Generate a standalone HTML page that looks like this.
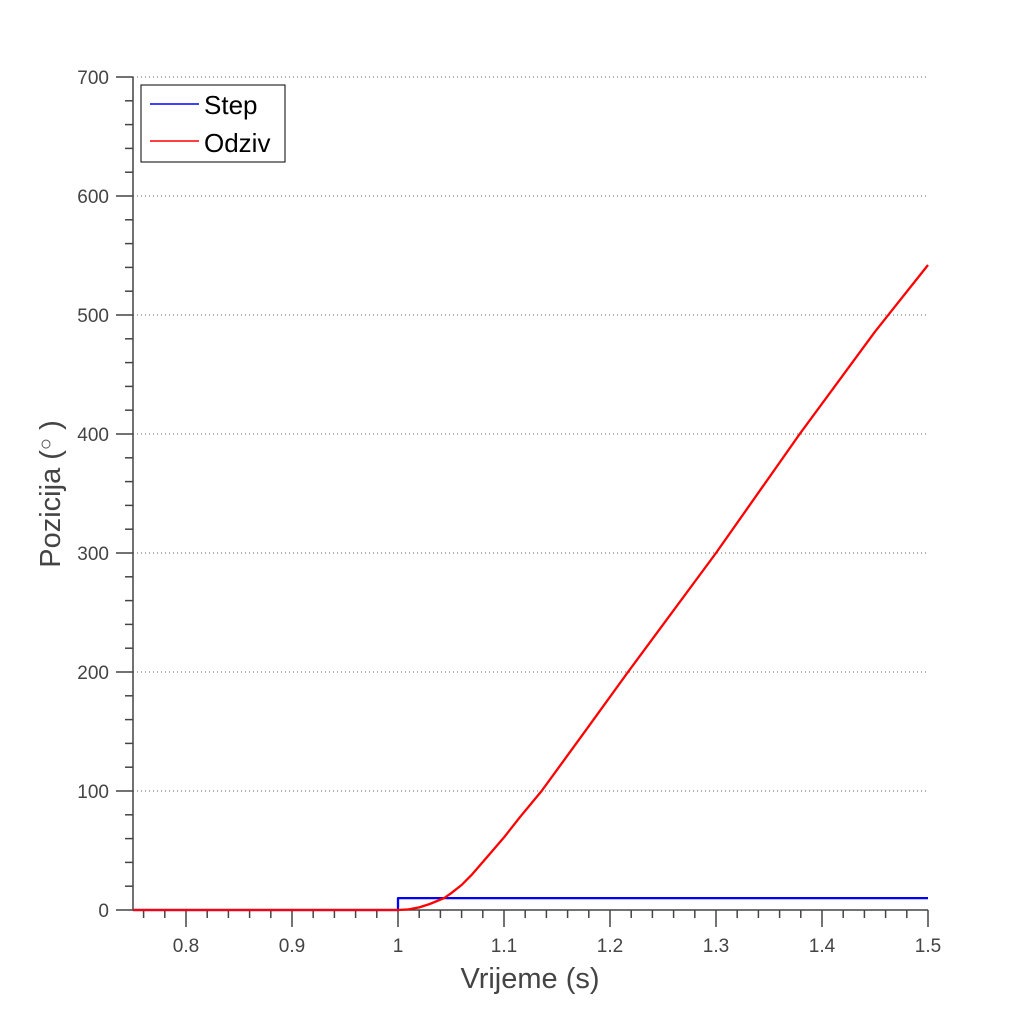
<!DOCTYPE html>
<html><head><meta charset="utf-8"><style>
body{margin:0;background:#fff}
svg text{font-family:"Liberation Sans",sans-serif}
</style></head><body>
<svg id="chart" width="1024" height="1024" xmlns="http://www.w3.org/2000/svg">
<g id="grid"></g>
<g id="axes"></g>
<g id="series"></g>
<text x="530" y="988" text-anchor="middle" font-size="29" fill="#444">Vrijeme (s)</text>
<text transform="translate(60,494) rotate(-90)" text-anchor="middle" font-size="29" fill="#444">Pozicija (<tspan font-size="20" dy="-8">○</tspan><tspan dy="8"> )</tspan></text>
<g>
<rect x="141" y="85" width="144" height="77" fill="#fff" stroke="#000" stroke-width="1"/>
<line x1="150" y1="104" x2="199" y2="104" stroke="#00f" stroke-width="1.5"/>
<text x="204" y="114" font-size="26" fill="#000">Step</text>
<line x1="150" y1="141" x2="199" y2="141" stroke="#f00" stroke-width="1.5"/>
<text x="204" y="152" font-size="26" fill="#000">Odziv</text>
</g>
</svg>
<script>
const xTicks=[0.8,0.9,1,1.1,1.2,1.3,1.4,1.5];
const xTickLabels=["0.8","0.9","1","1.1","1.2","1.3","1.4","1.5"];
const yTicks=[0,100,200,300,400,500,600,700];
const yTickLabels=["0","100","200","300","400","500","600","700"];
const stepT=[0.75,1.0,1.0,1.5];
const stepV=[0,0,10,10];
const respT=[0.75,1.0,1.01,1.02,1.03,1.0436,1.05,1.06,1.07,1.0836,1.1,1.115,1.1355,1.178,1.217,1.3,1.379,1.45,1.5];
const respV=[0,0,0.5,2.2,5,10,14,21,30,44,61,78,100,152,200,300,400,486,542];
const X0=133,X1=928,Y0=910,Y1=77;
const xs=t=>X0+(t-0.75)/(1.5-0.75)*(X1-X0);
const ys=v=>Y0-v/700*(Y0-Y1);
const NS="http://www.w3.org/2000/svg";
function mk(tag,attrs,parent){const e=document.createElementNS(NS,tag);for(const k in attrs)e.setAttribute(k,attrs[k]);parent.appendChild(e);return e;}
const grid=document.getElementById('grid'),axes=document.getElementById('axes'),ser=document.getElementById('series');
yTicks.forEach((v,i)=>{
 if(v>0){const g=mk('line',{x1:X0,x2:X1,y1:ys(v),y2:ys(v),stroke:'#666','stroke-width':1,'stroke-dasharray':'1,3'},grid);
 
 }
 const t=mk('line',{x1:X0-17,x2:X0,y1:ys(v),y2:ys(v),stroke:'#444','stroke-width':1.5},axes);
 
 
 const l=mk('text',{x:X0-24,y:ys(v)+7,'text-anchor':'end','font-size':19,fill:'#444'},axes);
 l.textContent=yTickLabels[i];
 
 
});
for(let v=20;v<700;v+=20){if(v%100===0)continue;
 const m=mk('line',{x1:X0-8,x2:X0,y1:ys(v),y2:ys(v),stroke:'#444','stroke-width':1.5},axes);
 
 }
xTicks.forEach((v,i)=>{
 const t=mk('line',{x1:xs(v),x2:xs(v),y1:Y0,y2:Y0+17,stroke:'#444','stroke-width':1.5},axes);
 
 
 const l=mk('text',{x:xs(v),y:Y0+42,'text-anchor':'middle','font-size':19,fill:'#444'},axes);
 l.textContent=xTickLabels[i];
 
 
});
for(let k=38;k<75;k++){if(k%5===0)continue;const v=k*0.02;
 const m=mk('line',{x1:xs(v),x2:xs(v),y1:Y0,y2:Y0+8,stroke:'#444','stroke-width':1.5},axes);
 
 }
const ax=mk('path',{d:`M${X0},${Y1}V${Y0}H${X1}`,fill:'none',stroke:'#444','stroke-width':1.5},axes);


function line(T,V,c,n){const d=T.map((t,i)=>(i?'L':'M')+xs(t).toFixed(1)+','+ys(V[i]).toFixed(1)).join('');
 const p=mk('path',{d:d,fill:'none',stroke:c,'stroke-width':2.3,'stroke-linejoin':'round'},ser);
 
 }
line(stepT,stepV,'#00f','step-line');
line(respT,respV,'#f00','odziv-line');
</script>
</body></html>
